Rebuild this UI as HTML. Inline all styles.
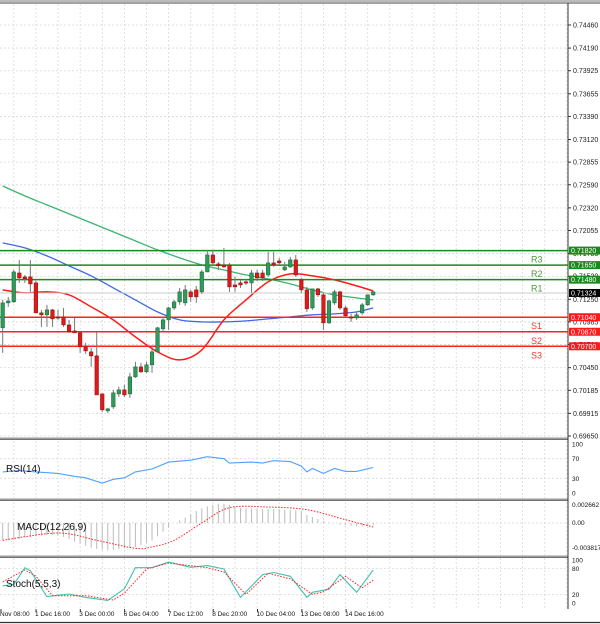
<!DOCTYPE html>
<html><head><meta charset="utf-8"><style>
body{margin:0;background:#fff;}
svg{display:block;font-family:"Liberation Sans",sans-serif;}
</style></head><body>
<svg id="c" width="600" height="624" viewBox="0 0 600 624"></svg>
<script>
const open_=[0.70916,0.71208,0.71220,0.71558,0.71512,0.71512,0.71442,0.71091,0.71068,0.71126,0.71044,0.71044,0.70950,0.70880,0.70857,0.70693,0.70635,0.70588,0.70143,0.69944,0.69991,0.70143,0.70190,0.70143,0.70342,0.70459,0.70401,0.70483,0.70635,0.70904,0.71009,0.71149,0.71220,0.71208,0.71337,0.71360,0.71337,0.71570,0.71769,0.71664,0.71652,0.71652,0.71418,0.71442,0.71454,0.71442,0.71558,0.71558,0.71535,0.71676,0.71699,0.71594,0.71629,0.71711,0.71477,0.71360,0.71149,0.71372,0.71302,0.70974,0.71208,0.71337,0.71149,0.71044,0.71032,0.71091,0.71185,0.71302];
const high=[0.71243,0.71278,0.71594,0.71711,0.71535,0.71711,0.71465,0.71126,0.71185,0.71138,0.71126,0.71149,0.71009,0.71032,0.70869,0.70740,0.70681,0.70869,0.70143,0.69979,0.70190,0.70226,0.70249,0.70389,0.70518,0.70506,0.70518,0.70693,0.70927,0.71044,0.71161,0.71243,0.71383,0.71418,0.71360,0.71407,0.71594,0.71828,0.71828,0.71688,0.71852,0.71676,0.71512,0.71477,0.71489,0.71594,0.71594,0.71594,0.71805,0.71805,0.71735,0.71688,0.71746,0.71769,0.71500,0.71395,0.71372,0.71383,0.71325,0.71243,0.71360,0.71348,0.71173,0.71079,0.71102,0.71208,0.71302,0.71348];
const low=[0.70623,0.71161,0.71208,0.71442,0.71442,0.71337,0.71091,0.70927,0.70927,0.70927,0.71009,0.70927,0.70857,0.70857,0.70623,0.70611,0.70459,0.70131,0.69933,0.69921,0.69968,0.70108,0.70108,0.70096,0.70330,0.70389,0.70389,0.70389,0.70635,0.70880,0.70892,0.71126,0.71185,0.71173,0.71220,0.71208,0.71313,0.71570,0.71652,0.71594,0.71617,0.71337,0.71337,0.71383,0.71418,0.71325,0.71465,0.71465,0.71512,0.71629,0.71652,0.71582,0.71617,0.71512,0.71325,0.71102,0.71126,0.71278,0.70892,0.70962,0.71185,0.71126,0.71032,0.70985,0.71009,0.71068,0.71173,0.71290];
const close_=[0.71208,0.71231,0.71570,0.71500,0.71489,0.71430,0.71091,0.71068,0.71126,0.71021,0.71032,0.70950,0.70869,0.70857,0.70693,0.70646,0.70588,0.70131,0.69956,0.69968,0.70155,0.70190,0.70131,0.70342,0.70459,0.70401,0.70483,0.70635,0.70916,0.71009,0.71149,0.71220,0.71337,0.71360,0.71278,0.71278,0.71570,0.71769,0.71676,0.71641,0.71629,0.71395,0.71395,0.71418,0.71442,0.71558,0.71500,0.71500,0.71676,0.71652,0.71676,0.71629,0.71711,0.71535,0.71360,0.71138,0.71372,0.71302,0.70974,0.71232,0.71337,0.71149,0.71056,0.71032,0.71068,0.71185,0.71302,0.71337];
const maIdx=[0,4,8,12,16,20,24,28,32,36,40,44,48,52,56,60,64,67];
const maSlow=[0.72577,0.72460,0.72355,0.72249,0.72144,0.72039,0.71933,0.71828,0.71735,0.71652,0.71594,0.71535,0.71489,0.71430,0.71360,0.71302,0.71266,0.71243];
const maMid=[0.71910,0.71852,0.71758,0.71641,0.71524,0.71383,0.71243,0.71102,0.71009,0.70986,0.70986,0.70997,0.71021,0.71044,0.71068,0.71079,0.71102,0.71149];
const maFast=[0.71360,0.71325,0.71337,0.71302,0.71161,0.71009,0.70810,0.70635,0.70541,0.70658,0.71009,0.71243,0.71454,0.71547,0.71524,0.71477,0.71407,0.71348];
const priceTicks=[0.74460,0.74190,0.73925,0.73655,0.73390,0.73120,0.72855,0.72590,0.72320,0.72055,0.71785,0.71520,0.71250,0.70985,0.70720,0.70450,0.70185,0.69915,0.69650];
const levelNames=["R3","R2","R1","S1","S2","S3"];
const levelVals=[0.71820,0.71650,0.71480,0.71040,0.70870,0.70700];
const lastPrice=0.71324;
const rsiIdx=[0,3,6,10,13,15,18,20,22,24,27,30,34,37,40,41,45,47,49,52,54,55,56,58,60,62,64,67];
const rsiVal=[43,46,43,40,34,31,20,28,31,43,49,63,67,74,70,61,63,61,66,64,55,43,50,40,50,44,44,52];
const macdHist=[-0.0026,-0.0026,-0.0025,-0.0024,-0.0022,-0.0021,-0.0020,-0.0019,-0.0018,-0.0018,-0.0019,-0.0021,-0.0024,-0.0028,-0.0031,-0.0034,-0.0037,-0.0039,-0.0040,-0.0041,-0.0040,-0.0039,-0.0038,-0.0037,-0.0036,-0.0033,-0.0030,-0.0026,-0.0020,-0.0013,-0.0007,0.0000,0.0004,0.0008,0.0013,0.0018,0.0022,0.0025,0.0027,0.0029,0.0029,0.0027,0.0024,0.0023,0.0022,0.0022,0.0022,0.0021,0.0021,0.0021,0.0021,0.0020,0.0020,0.0019,0.0017,0.0012,0.0009,0.0006,0.0003,0.0001,0.0000,-0.0002,-0.0003,-0.0004,-0.0005,-0.0005,-0.0004,-0.0003];
const sigIdx=[0,10,17,24,27,31,36,41,48,55,62,67];
const sigVal=[-0.0026,-0.0015,-0.0026,-0.0038,-0.0036,-0.0026,0,0.0023,0.0024,0.0020,0.0005,-0.0006];
const stKIdx=[0,2,4,5,8,12,15,19,22,24,27,30,34,37,40,43,47,49,52,55,56,59,61,64,67];
const stKVal=[40,43,82,75,15,21,13,6,33,82,82,95,83,87,79,13,66,71,62,13,25,32,66,25,77];
const stDIdx=[0,4,6,9,15,20,22,26,30,37,40,44,48,52,56,58,62,65,67];
const stDVal=[49,77,62,17,17,7,23,79,93,82,72,20,69,56,20,26,62,35,53];
const timeLabels=["Nov 08:00","1 Dec 16:00","3 Dec 00:00","6 Dec 04:00","7 Dec 12:00","8 Dec 20:00","10 Dec 04:00","13 Dec 08:00","14 Dec 16:00"];

const NS="http://www.w3.org/2000/svg";
const svg=document.getElementById('c');
function el(t,a,p){const e=document.createElementNS(NS,t);for(const k in a)e.setAttribute(k,a[k]);(p||svg).appendChild(e);return e;}
const X=i=>2.7+5.53*i;
const Y=p=>25+(0.74460-p)*8545;
const AX=568;
const rsiY=v=>493-v*0.49;
const macdY=v=>523-v*6650;
const stY=v=>603-v*0.43;

const grid=el('g',{stroke:'#d8d8d8','stroke-dasharray':'2,2','stroke-width':'0.8'});


for(let gx=13.8;gx<AX;gx+=22.12){
  [[4,437],[441,498],[502,555],[558,608]].forEach(r=>el('line',{x1:gx,x2:gx,y1:r[0],y2:r[1]},grid));
}
priceTicks.forEach(p=>el('line',{x1:0,x2:AX,y1:Y(p),y2:Y(p)},grid));
[70,30].forEach(v=>el('line',{x1:0,x2:AX,y1:rsiY(v),y2:rsiY(v)},grid));
el('line',{x1:0,x2:AX,y1:macdY(0),y2:macdY(0)},grid);
[80,20].forEach(v=>el('line',{x1:0,x2:AX,y1:stY(v),y2:stY(v)},grid));

el('rect',{x:0,y:0,width:600,height:2,fill:'#bbb'});
el('line',{x1:0,x2:600,y1:3,y2:3,stroke:'#444','stroke-width':1});
[438,499,556].forEach(yy=>{el('line',{x1:0,x2:AX,y1:yy,y2:yy,stroke:'#999','stroke-width':1});el('line',{x1:0,x2:AX,y1:yy+1.2,y2:yy+1.2,stroke:'#444','stroke-width':1});});
el('line',{x1:AX,x2:AX,y1:3,y2:609,stroke:'#333','stroke-width':1});
el('line',{x1:0,x2:600,y1:622.5,y2:622.5,stroke:'#333','stroke-width':1.2});

const pax=el('g',{'font-size':'7',fill:'#222'});


priceTicks.forEach(p=>{const y=Y(p);el('line',{x1:AX,x2:AX+3,y1:y,y2:y,stroke:'#333'},pax);const t=el('text',{x:AX+5,y:y+2.5},pax);t.textContent=p.toFixed(5);});

// smooth curve (Catmull-Rom through data points)
function smoothPath(pts){
  let d='M'+pts[0][0].toFixed(1)+','+pts[0][1].toFixed(1);
  for(let i=0;i<pts.length-1;i++){
    const p0=pts[Math.max(0,i-1)],p1=pts[i],p2=pts[i+1],p3=pts[Math.min(pts.length-1,i+2)];
    const c1=[p1[0]+(p2[0]-p0[0])/6,p1[1]+(p2[1]-p0[1])/6];
    const c2=[p2[0]-(p3[0]-p1[0])/6,p2[1]-(p3[1]-p1[1])/6];
    d+=' C'+c1[0].toFixed(1)+','+c1[1].toFixed(1)+' '+c2[0].toFixed(1)+','+c2[1].toFixed(1)+' '+p2[0].toFixed(1)+','+p2[1].toFixed(1);
  }
  return d;
}
function curve(idx,vals,fy,attrs,name){const pts=idx.map((ix,k)=>[X(ix),fy(vals[k])]);const e=el('path',Object.assign({d:smoothPath(pts),fill:'none'},attrs));return e;}
function line(idx,vals,fy,attrs,name){const pts=idx.map((ix,k)=>X(ix).toFixed(1)+','+fy(vals[k]).toFixed(1)).join(' ');const e=el('polyline',Object.assign({points:pts,fill:'none'},attrs));return e;}
curve(maIdx,maSlow,Y,{stroke:'#3cb371','stroke-width':1.3},'ma-slow-line');
curve(maIdx,maMid,Y,{stroke:'#4169e1','stroke-width':1.3},'ma-mid-line');
curve(maIdx,maFast,Y,{stroke:'#ff1a1a','stroke-width':1.5},'ma-fast-line');

levelVals.forEach((v,k)=>{
  const res=k<3;const col=res?'#1a8a1a':'#ff2020';const y=Y(v);
  const g=el('g',{});
  
  
  el('line',{x1:0,x2:AX,y1:y,y2:y,stroke:col,'stroke-width':1.5},g);
  const t=el('text',{x:531,y:y+12,'font-size':'9',fill:res?'#4a9a3a':'#ff3030'},g);t.textContent=levelNames[k];
  el('rect',{x:AX+1,y:y-4,width:31,height:8,fill:res?'#1a8a1a':'#ff1a1a'},g);
  const l=el('text',{x:AX+3,y:y+2.6,'font-size':'7',fill:'#fff'},g);l.textContent=v.toFixed(5);
});
const ly=Y(lastPrice);
el('line',{x1:0,x2:AX,y1:ly,y2:ly,stroke:'#ccc','stroke-width':1});
el('rect',{x:AX+1,y:ly-4,width:31,height:8,fill:'#000'});
const lt=el('text',{x:AX+3,y:ly+2.6,'font-size':'7',fill:'#fff'});lt.textContent=lastPrice.toFixed(5);



const cg=el('g',{});


for(let i=0;i<open_.length;i++){
  const x=X(i),up=close_[i]>=open_[i];
  const c=el('g',{},cg);
  
  
  el('line',{x1:x,x2:x,y1:Y(high[i]),y2:Y(low[i]),stroke:'#777','stroke-width':1},c);
  const t=Y(Math.max(open_[i],close_[i])),b=Y(Math.min(open_[i],close_[i]));
  el('rect',{x:x-1.8,y:t,width:3.6,height:Math.max(1.2,b-t),fill:up?'#2e9b5a':'#e01818',stroke:up?'#1e5e38':'#8a1010','stroke-width':0.5},c);
}

line(rsiIdx,rsiVal,rsiY,{stroke:'#4da3ff','stroke-width':1.1},'rsi-line');
function lbl(x,y,s,size,name){const t=el('text',{x:x,y:y,'font-size':size,fill:'#111'});t.textContent=s;return t;}
lbl(6,472,'RSI(14)','10','rsi-title');
[[100,'100'],[70,'70'],[30,'30'],[0,'0']].forEach(a=>{lbl(AX+4,rsiY(a[0])+2.5,a[1],'6.5','rsi-tick');});

const hg=el('g',{stroke:'#bbb','stroke-width':1});


macdHist.forEach((v,i)=>el('line',{x1:X(i),x2:X(i),y1:macdY(0),y2:macdY(v)},hg));
curve(sigIdx,sigVal,macdY,{stroke:'#ff2020','stroke-width':1,'stroke-dasharray':'1.5,1.5'},'macd-signal-line');
lbl(17,530,'MACD(12,26,9)','10','macd-title');
lbl(AX+4,507,'0.002662','6.5','macd-tick');
lbl(AX+4,525,'0.00','6.5','macd-tick');
lbl(AX+4,550,'-0.003817','6.5','macd-tick');

line(stKIdx,stKVal,stY,{stroke:'#40c0b0','stroke-width':1.1},'stoch-k-line');
line(stDIdx,stDVal,stY,{stroke:'#ff2020','stroke-width':1,'stroke-dasharray':'1.5,1.5'},'stoch-d-line');
lbl(6,587,'Stoch(5,5,3)','10','stoch-title');
[[100,'100'],[80,'80'],[20,'20'],[0,'0']].forEach(a=>{lbl(AX+4,stY(a[0])+2.5,a[1],'6.5','stoch-tick');});

timeLabels.forEach((s,k)=>{
  const x=(k===0?0:35+44.3*(k-1));
  el('line',{x1:x+1,x2:x+1,y1:609,y2:612,stroke:'#333'});
  lbl(x,616,s,'6.5','time-label');
});
</script>
</body></html>
